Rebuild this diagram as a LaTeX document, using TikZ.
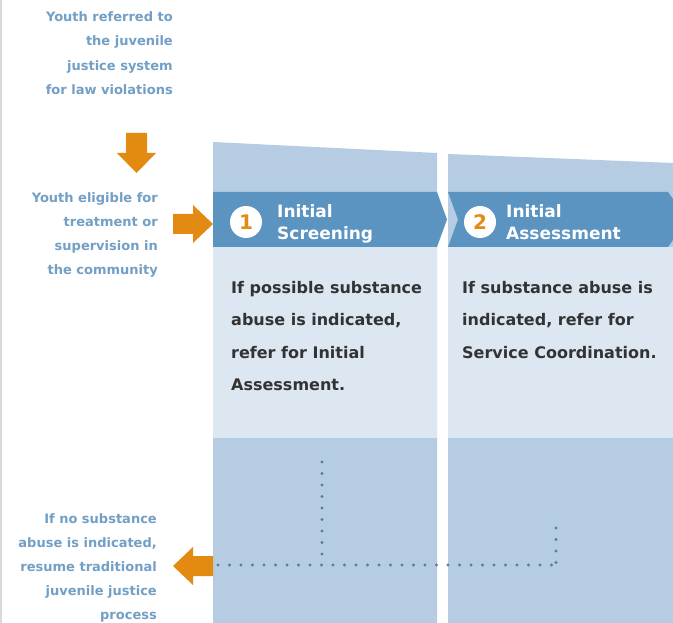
\documentclass[tikz,border=0pt]{standalone}
\usepackage{fontspec}
\setmainfont{DejaVu Sans}
\definecolor{orng}{HTML}{E38A12}
\definecolor{labblue}{HTML}{729FC5}
\definecolor{band}{HTML}{5B94C1}
\definecolor{colmid}{HTML}{B5CCE3}
\definecolor{panel}{HTML}{DDE7F2}
\definecolor{bodytxt}{HTML}{333333}
\definecolor{dotcol}{HTML}{5A7B9C}
\begin{document}
\begin{tikzpicture}[x=1pt,y=-1pt,
  sidelabel/.style={font=\bfseries\fontsize{13}{24.2}\selectfont, text=labblue, align=right, anchor=base east, inner sep=0pt},
  bodytext/.style={font=\bfseries\fontsize{16}{32.5}\selectfont, text=bodytxt, align=left, anchor=base west, inner sep=0pt},
  bandtext/.style={font=\bfseries\fontsize{17}{22}\selectfont, text=white, align=left, anchor=base west, inner sep=0pt},
  numcircle/.style={circle, fill=white, minimum size=32pt, inner sep=0pt, text=orng, font=\bfseries\fontsize{20}{20}\selectfont},
  blockarrow/.style={fill=orng},
  dotline/.style={dotcol, line width=3.4pt, line cap=round, dash pattern=on 0pt off 11.5pt}]
\useasboundingbox (0,0) rectangle (673,623);
\fill[white] (0,0) rectangle (673,623);
\fill[gray!30] (0,0) rectangle (1.5,623);
% columns
\fill[colmid] (213,142) -- (437,153) -- (437,623) -- (213,623) -- cycle;
\fill[colmid] (448,154) -- (673,163) -- (673,623) -- (448,623) -- cycle;
\fill[panel] (213,247) rectangle (437,438);
\fill[panel] (448,247) rectangle (673,438);
% banners
\fill[band] (213,192) -- (437,192) -- (447,219.5) -- (437,247) -- (213,247) -- cycle;
\fill[band] (448,192) -- (668,192) -- (673,199) -- (673,240) -- (668,247) -- (448,247) -- (458,219.5) -- cycle;
\node[numcircle] (n1) at (246,222) {1};
\node[numcircle] (n2) at (480,222) {2};
\node[bandtext] (t1) at (277,240) {Initial\\Screening};
\node[bandtext] (t2) at (506,240) {Initial\\Assessment};
% body texts
\node[bodytext] (b1) at (231,390.5) {If possible substance\\abuse is indicated,\\refer for Initial\\Assessment.};
\node[bodytext] (b2) at (462,358) {If substance abuse is\\indicated, refer for\\Service Coordination.};
% side labels
\node[sidelabel] (l1) at (173,94.3) {Youth referred to\\the juvenile\\justice system\\for law violations};
\node[sidelabel] (l2) at (158,274.6) {Youth eligible for\\treatment or\\supervision in\\the community};
\node[sidelabel] (l3) at (157,619.8) {If no substance\\abuse is indicated,\\resume traditional\\juvenile justice\\process};
% block arrows
\fill[blockarrow] (126,133) -- (147,133) -- (147,153) -- (156,153) -- (136.5,173) -- (117,153) -- (126,153) -- cycle;
\fill[blockarrow] (173,214) -- (193,214) -- (193,205) -- (213,224) -- (193,243) -- (193,234) -- (173,234) -- cycle;
\fill[blockarrow] (213,556) -- (193,556) -- (193,547) -- (173,566) -- (193,585) -- (193,576) -- (213,576) -- cycle;
% dotted paths
\coordinate (d1) at (322,462);
\coordinate (d2) at (322,557);
\coordinate (h1) at (218,565);
\coordinate (h2) at (556,565);
\coordinate (v2) at (556,528);
\draw[dotline] (d1) -- (d2);
\draw[dotline] (h1) -- (h2);
\draw[dotline] (v2) -- (h2);
\end{tikzpicture}
\end{document}
